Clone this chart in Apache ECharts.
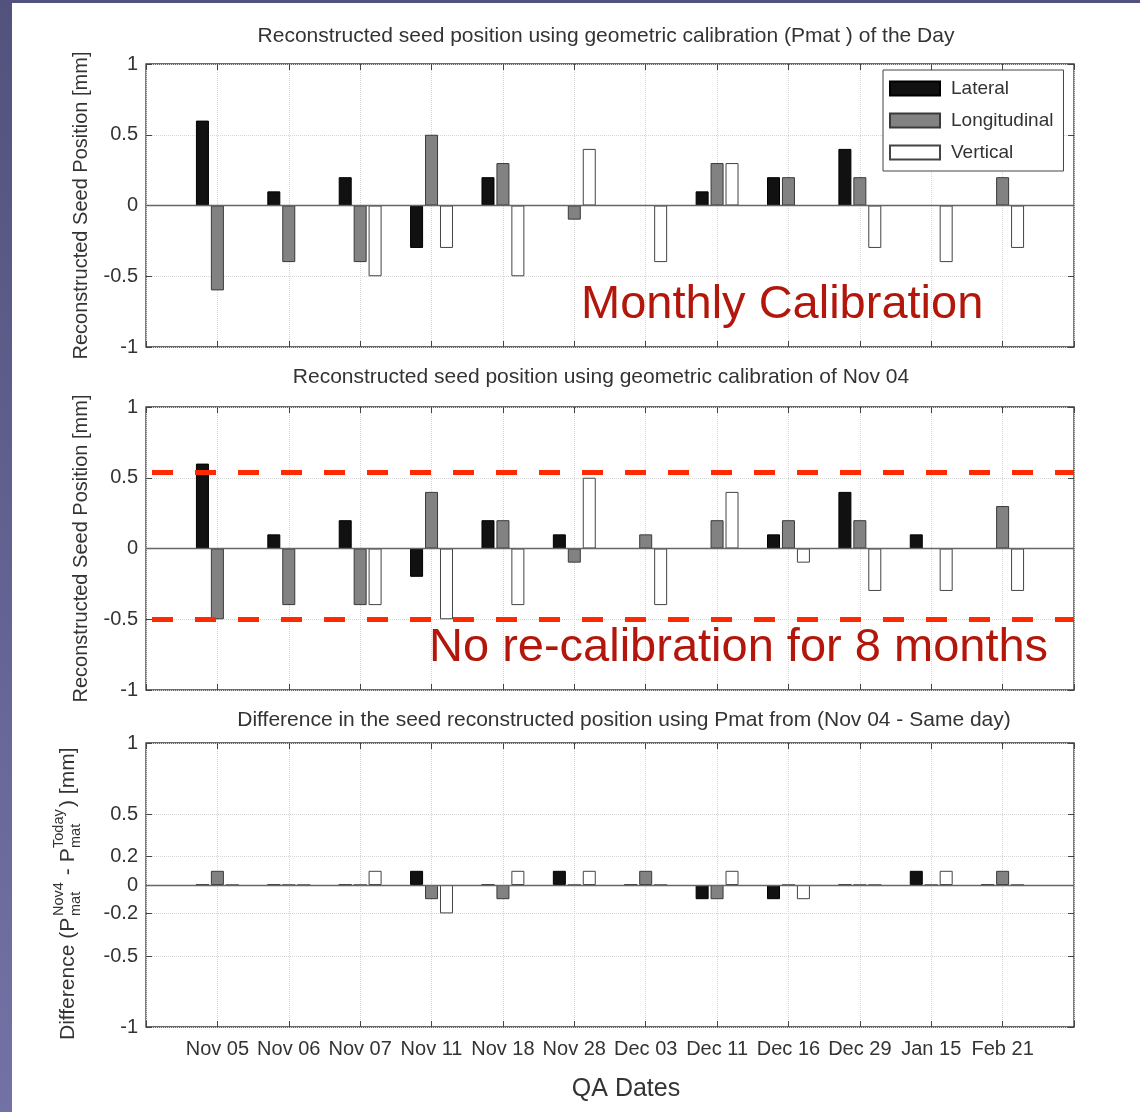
<!DOCTYPE html>
<html><head><meta charset="utf-8">
<script src="https://cdn.jsdelivr.net/npm/echarts@6/dist/echarts.min.js"></script>
<style>
html,body{margin:0;padding:0;width:1140px;height:1112px;overflow:hidden;}
body{background:linear-gradient(to bottom,#52527d,#7272a6);}
#paper{position:absolute;left:12px;top:3px;width:1128px;height:1109px;background:#fff;}
#chart{position:absolute;left:0;top:0;width:1140px;height:1112px;}
</style></head><body><div id="paper"></div><div id="chart"></div>
<script>
// ---------- data ----------
const qaDates = ['Nov 05','Nov 06','Nov 07','Nov 11','Nov 18','Nov 28','Dec 03','Dec 11','Dec 16','Dec 29','Jan 15','Feb 21'];
const seriesNames = ['Lateral','Longitudinal','Vertical'];
// Panel 1: calibration of the day (monthly calibration)
const monthlyLateral      = [0.6, 0.1, 0.2, -0.3, 0.2, 0, 0, 0.1, 0.2, 0.4, 0, 0];
const monthlyLongitudinal = [-0.6, -0.4, -0.4, 0.5, 0.3, -0.1, 0, 0.3, 0.2, 0.2, 0, 0.2];
const monthlyVertical     = [0, 0, -0.5, -0.3, -0.5, 0.4, -0.4, 0.3, 0, -0.3, -0.4, -0.3];
// Panel 2: calibration of Nov 04 (no re-calibration)
const nov04Lateral      = [0.6, 0.1, 0.2, -0.2, 0.2, 0.1, 0, 0, 0.1, 0.4, 0.1, 0];
const nov04Longitudinal = [-0.5, -0.4, -0.4, 0.4, 0.2, -0.1, 0.1, 0.2, 0.2, 0.2, 0, 0.3];
const nov04Vertical     = [0, 0, -0.4, -0.5, -0.4, 0.5, -0.4, 0.4, -0.1, -0.3, -0.3, -0.3];
// Panel 3: difference (Nov 04 - same day)
const diffLateral      = [0, 0, 0, 0.1, 0, 0.1, 0, -0.1, -0.1, 0, 0.1, 0];
const diffLongitudinal = [0.1, 0, 0, -0.1, -0.1, 0, 0.1, -0.1, 0, 0, 0, 0.1];
const diffVertical     = [0, 0, 0.1, -0.2, 0.1, 0.1, 0, 0.1, -0.1, 0, 0.1, 0];
// tick labels
const yTicksMain = [-1, -0.5, 0, 0.5, 1];
const yTicksDiff = [-1, -0.5, -0.2, 0, 0.2, 0.5, 1];
// tolerance lines drawn on panel 2
const toleranceLines = [0.54, -0.5];

// ---------- styles ----------
const FONT = '"Liberation Sans", Arial, Helvetica, sans-serif';
const TXT = '#333';
const barStyles = [
  {color:'#111111', borderColor:'#000', borderWidth:1},
  {color:'#828282', borderColor:'#3a3a3a', borderWidth:1},
  {color:'#ffffff', borderColor:'#444', borderWidth:1}
];
const grids = [
  {left:146, top:64, width:928, height:283},
  {left:146, top:407, width:928, height:283},
  {left:146, top:743, width:928, height:284}
];
const panels = [
  {data:[monthlyLateral, monthlyLongitudinal, monthlyVertical], ticks:yTicksMain,
   title:'Reconstructed seed position using geometric calibration (Pmat ) of the Day', titleX:606, titleTop:26,
   yName:'Reconstructed Seed Position [mm]'},
  {data:[nov04Lateral, nov04Longitudinal, nov04Vertical], ticks:yTicksMain,
   title:'Reconstructed seed position using geometric calibration of Nov 04', titleX:601, titleTop:367,
   yName:'Reconstructed Seed Position [mm]'},
  {data:[diffLateral, diffLongitudinal, diffVertical], ticks:yTicksDiff,
   title:'Difference in the seed reconstructed position using Pmat from (Nov 04 - Same day)', titleX:624, titleTop:710,
   yName:''}
];

const xAxes = [], yAxes = [], series = [], titles = [];
panels.forEach((p, gi) => {
  const last = gi === panels.length - 1;
  ['bottom','top'].forEach(pos => {
    const ax = {
      type:'value', gridIndex:gi, position:pos, min:0, max:qaDates.length + 1, interval:1,
      axisLine:{show:false, onZero:false},
      axisTick:{show:true, inside:true, length:6, lineStyle:{color:'#444'}},
      splitLine:{show:pos === 'bottom', lineStyle:{color:'#d6d6d6', type:'dotted', width:1}},
      axisLabel:{show:last && pos === 'bottom', formatter:v => qaDates[v - 1] || '',
        fontFamily:FONT, fontSize:20, color:TXT, margin:12}
    };
    if (last && pos === 'bottom') {
      ax.name = 'QA Dates'; ax.nameLocation = 'middle'; ax.nameGap = 50;
      ax.nameTextStyle = {fontFamily:FONT, fontSize:25, color:TXT, padding:[0,0,0,32]};
    }
    xAxes.push(ax);
  });
  ['left','right'].forEach(pos => {
    const ay = {
      type:'value', gridIndex:gi, position:pos, min:-1, max:1,
      axisLine:{show:false, onZero:false},
      axisTick:{show:true, inside:true, length:6, lineStyle:{color:'#444'}, customValues:p.ticks},
      splitLine:{show:pos === 'left', lineStyle:{color:'#d6d6d6', type:'dotted', width:1}},
      axisLabel:{show:pos === 'left', customValues:p.ticks, fontFamily:FONT, fontSize:20, color:TXT, margin:8}
    };
    if (pos === 'left' && p.yName) {
      ay.name = p.yName; ay.nameLocation = 'middle'; ay.nameGap = 55;
      ay.nameTextStyle = {fontFamily:FONT, fontSize:20, color:TXT};
    }
    yAxes.push(ay);
  });
  titles.push({text:p.title, left:p.titleX, top:p.titleTop, textAlign:'center', padding:0,
    textStyle:{fontFamily:FONT, fontSize:21, fontWeight:'normal', color:TXT}});
  p.data.forEach((vals, si) => {
    const s = {
      type:'bar', name:seriesNames[si], xAxisIndex:gi * 2, yAxisIndex:gi * 2,
      data:vals.map((v, i) => [i + 1, v]),
      barWidth:13, barGap:'15%', itemStyle:barStyles[si], silent:true
    };
    if (si === 0) {
      s.markLine = {silent:true, symbol:'none', label:{show:false}, z:4,
        lineStyle:{color:'#666', width:1.3, type:'solid'}, data:[{yAxis:0}]};
    }
    if (gi === 1 && si === 2) {
      s.markLine = {silent:true, symbol:'none', label:{show:false}, z:10,
        lineStyle:{color:'#ff2a00', width:5, type:[21,22], dashOffset:37},
        data:toleranceLines.map(v => ({yAxis:v}))};
    }
    series.push(s);
  });
});

const F21 = '21px ' + FONT, F14 = '14.5px ' + FONT;
function t(text, x, y, font) {
  return {type:'text', x:x, y:y, silent:true,
    style:{text:text, font:font, fill:TXT, align:'left', verticalAlign:'middle', textAlign:'left', textVerticalAlign:'middle'}};
}

const option = {
  animation:false,
  backgroundColor:'transparent',
  title:titles,
  grid:grids.map(g => Object.assign({show:true, borderColor:'#3a3a3a', borderWidth:1.3, backgroundColor:'#fff',
    containLabel:false, outerBoundsMode:'none'}, g)),
  legend:{
    orient:'vertical', left:883, top:70, padding:[9,10,9,6], itemGap:13,
    itemWidth:50, itemHeight:14, icon:'rect', data:seriesNames, selectedMode:false,
    borderColor:'#444', borderWidth:1, backgroundColor:'#fff',
    textStyle:{fontFamily:FONT, fontSize:19, color:TXT, padding:[0,0,0,6]}
  },
  xAxis:xAxes,
  yAxis:yAxes,
  series:series,
  graphic:[
    {type:'text', x:581, y:305, silent:true, z:100,
      style:{text:'Monthly Calibration', font:'47px ' + FONT, fill:'#b3160b', align:'left', verticalAlign:'middle', textAlign:'left', textVerticalAlign:'middle'}},
    {type:'text', x:429, y:648, silent:true, z:100,
      style:{text:'No re-calibration for 8 months', font:'47px ' + FONT, fill:'#b3160b', align:'left', verticalAlign:'middle', textAlign:'left', textVerticalAlign:'middle'}},
    {type:'group', x:68, y:1040, rotation:Math.PI / 2, silent:true, children:[
      t('Difference (P', 0, 0, F21),
      t('Nov4', 124, -9, F14),
      t('mat', 124, 8, F14),
      t(' - P', 159, 0, F21),
      t('Today', 192, -9, F14),
      t('mat', 192, 8, F14),
      t(') [mm]', 233, 0, F21)
    ]}
  ]
};
const chart = echarts.init(document.getElementById('chart'), null, {renderer:'canvas'});
chart.setOption(option);
</script></body></html>
